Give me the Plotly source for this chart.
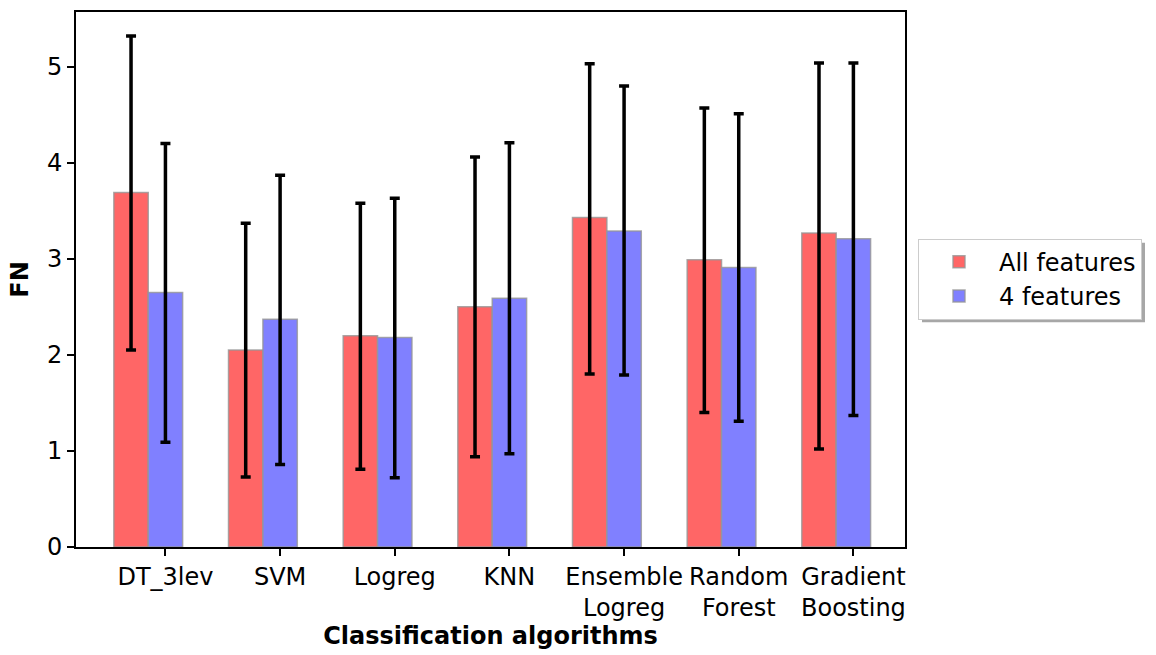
import plotly.graph_objects as go

categories = ["DT_3lev", "SVM", "Logreg", "KNN", "Ensemble<br>Logreg", "Random<br>Forest", "Gradient<br>Boosting"]
all_mean = [3.69, 2.05, 2.20, 2.50, 3.43, 2.99, 3.27]
all_err_plus = [1.63, 1.32, 1.38, 1.56, 1.60, 1.58, 1.77]
all_err_minus = [1.64, 1.32, 1.39, 1.56, 1.63, 1.59, 2.25]
four_mean = [2.65, 2.37, 2.18, 2.59, 3.29, 2.91, 3.21]
four_err_plus = [1.55, 1.50, 1.45, 1.62, 1.51, 1.60, 1.83]
four_err_minus = [1.56, 1.51, 1.46, 1.62, 1.50, 1.60, 1.84]

bar_w = 0.3
pos = list(range(len(categories)))
FONT = "DejaVu Sans"
FS = 24
edge = dict(color="rgba(150,150,150,0.8)", width=1.5)

fig = go.Figure()
fig.add_trace(go.Bar(
    x=[p - bar_w for p in pos], y=all_mean, width=bar_w, name="All features",
    marker=dict(color="#ff6666", line=edge),
    error_y=dict(type="data", array=all_err_plus, arrayminus=all_err_minus,
                 color="black", thickness=3.5, width=5),
))
fig.add_trace(go.Bar(
    x=pos, y=four_mean, width=bar_w, name="4 features",
    marker=dict(color="#8080ff", line=edge),
    error_y=dict(type="data", array=four_err_plus, arrayminus=four_err_minus,
                 color="black", thickness=3.5, width=5),
))

L, R, T, B = 76, 905, 10, 548
W, H = 1156, 655

def px_x(v):
    return (v - L) / (R - L)

def px_y(v):
    return (B - v) / (B - T)

# legend shadow
fig.add_shape(type="rect", xref="paper", yref="paper",
              x0=px_x(922), x1=px_x(1145), y0=px_y(242), y1=px_y(322),
              fillcolor="rgba(130,130,130,0.7)", line=dict(width=0), layer="below")

fig.update_layout(
    width=W, height=H,
    margin=dict(l=L, r=W - R, t=T, b=H - B),
    paper_bgcolor="white", plot_bgcolor="white",
    barmode="overlay",
    font=dict(family=FONT, size=FS, color="black"),
    showlegend=True,
    legend=dict(x=px_x(918), y=px_y(238), xanchor="left", yanchor="top",
                bgcolor="white", bordercolor="#cccccc", borderwidth=1,
                font=dict(family=FONT, size=FS), itemwidth=70, tracegroupgap=0),
    xaxis=dict(
        range=[-0.78, 6.45], tickmode="array", tickvals=pos, ticktext=categories,
        ticks="outside", ticklen=7, tickwidth=1.5, tickcolor="black",
        showline=True, linecolor="black", linewidth=2, mirror=True,
        showgrid=False, zeroline=False,
        tickfont=dict(family=FONT, size=FS),
        title=dict(text="<b>Classification algorithms</b>", font=dict(family=FONT, size=FS), standoff=6),
    ),
    yaxis=dict(
        range=[0, 5.57], tickmode="array", tickvals=[0, 1, 2, 3, 4, 5],
        ticks="outside", ticklen=7, tickwidth=1.5, tickcolor="black",
        showline=True, linecolor="black", linewidth=2, mirror=True,
        showgrid=False, zeroline=False,
        tickfont=dict(family=FONT, size=FS),
        title=dict(text="<b>FN</b>", font=dict(family=FONT, size=FS), standoff=12),
    ),
)

fig.write_html("out.html")
